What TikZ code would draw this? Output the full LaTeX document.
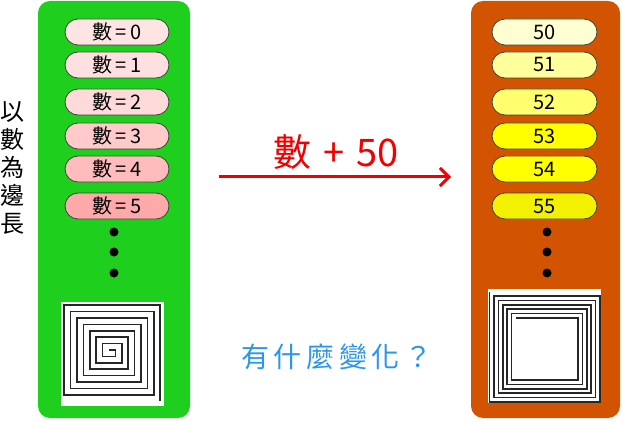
\documentclass[tikz,border=0pt]{standalone}
\usepackage{fontspec}
\setmainfont{Noto Sans CJK TC}
\usetikzlibrary{arrows.meta}
\definecolor{gpanel}{HTML}{1ECF1E}
\definecolor{opanel}{HTML}{D35400}
\definecolor{qblue}{HTML}{2E96E8}
\definecolor{arrred}{HTML}{F00000}
\tikzset{
  panel/.style={rounded corners=12pt},
  pill/.style={draw=black!75, line width=0.8pt, rounded corners=13pt, minimum width=104pt, minimum height=26pt, inner sep=0pt, font=\fontsize{20}{20}\selectfont},
  bigdot/.style={circle, fill=black, inner sep=0pt, minimum size=9pt},
  spiral/.style={line width=1.6pt, black!85},
}
\begin{document}
\begin{tikzpicture}[x=1pt,y=-1pt]
\useasboundingbox (0,0) rectangle (623,422);
% panels
\fill[gpanel, panel] (38,1) rectangle (190,418);
\fill[opanel, panel] (471,1) rectangle (620,418);
% left pills
\foreach \i/\c/\yy in {0/FFE4E4/32,1/FFE0E0/65,2/FFDADA/102,3/FFCACA/136,4/FFBCBC/169,5/FFAAAA/206}{
  \definecolor{pc}{HTML}{\c}
  \node[pill, fill=pc] (l\i) at (117,\yy) {數\,=\,\i};
}
\foreach \i/\c/\yy in {0/FFFFD2/32,1/FFFF9C/65,2/FFFF70/102,3/FFFF00/136,4/FFFF00/169,5/F2F200/206}{
  \definecolor{pc}{HTML}{\c}
  \node[pill, fill=pc, minimum width=105pt] (r\i) at (544.5,\yy) {5\i};
}
% dots
\foreach \yy [count=\k] in {232,252,273}{
  \node[bigdot] (ld\k) at (114,\yy) {};
  \node[bigdot] (rd\k) at (547,\yy) {};
}
% left spiral
\fill[white] (61,302) rectangle (164,406);
\draw[spiral] (109,350) foreach \i in {0,...,29}{ -- ++({90*\i}:{6.4+int(\i/2)*6.4}) };
% right spiral
\fill[white] (488,289) rectangle (601,403);
\draw[spiral] (516,318) foreach \i in {0,...,23}{ -- ++({90*\i}:{62+int(\i/2)*4.4}) };
% side text
\node[font=\fontsize{24}{28}\selectfont, align=center, inner sep=0pt] (side) at (13,168) {以\\數\\為\\邊\\長};
% arrow
\coordinate (as) at (219,177);
\coordinate (ae) at (451,177);
\draw[arrred, line width=3pt, -{Straight Barb[length=9pt,width=18pt,line width=3pt]}] (as) -- (ae);
\node[text=arrred, font=\fontsize{38}{38}\selectfont, inner sep=0pt] (lab) at (336,152) {數\hspace{12pt}+\hspace{12pt}50};
% question
\node[text=qblue, font=\fontsize{28}{28}\selectfont, inner sep=0pt] (q) at (337,357) {有\,什\,麼\,變\,化\,？};
\end{tikzpicture}
\end{document}
